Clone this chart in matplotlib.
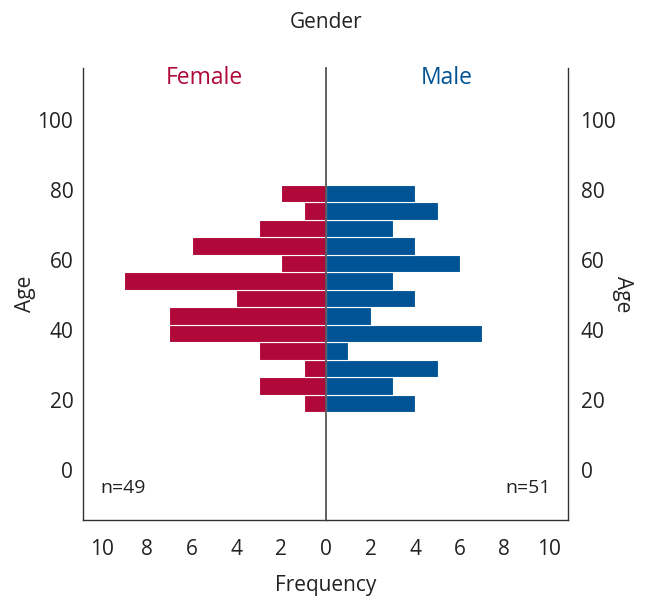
import numpy as np
import matplotlib.pyplot as plt

plt.rcParams['font.family'] = ['Open Sans', 'DejaVu Sans']

# age bins (lower edges), width 5 years
age_lo = [16.5, 21.5, 26.5, 31.5, 36.5, 41.5, 46.5, 51.5, 56.5, 61.5, 66.5, 71.5, 76.5]
female = [1, 3, 1, 3, 7, 7, 4, 9, 2, 6, 3, 1, 2]
male = [4, 3, 5, 1, 7, 2, 4, 3, 6, 4, 3, 5, 4]
yticks = [0, 20, 40, 60, 80, 100]
xticks_l = [0, 2, 4, 6, 8, 10]
xticks_r = [2, 4, 6, 8, 10]

red = '#B00838'
blue = '#005496'
txt = '#222222'

fig = plt.figure(figsize=(6.45, 5.98), dpi=100)
L, R, C = 83/645, 568/645, 326/645
B, T = 1 - 520/598, 1 - 68/598
axl = fig.add_axes([L, B, C - L, T - B])
axr = fig.add_axes([C, B, R - C, T - B])

ymin, ymax = -14.3, 114.9
xmax = 10.85

yc = np.array(age_lo) + 2.5
axl.barh(yc, female, height=5, color=red, edgecolor='white', linewidth=0.8)
axr.barh(yc, male, height=5, color=blue, edgecolor='white', linewidth=0.8)

for ax in (axl, axr):
    ax.set_ylim(ymin, ymax)
    ax.set_yticks(yticks)
    ax.tick_params(length=0, labelsize=15, colors=txt, pad=14)
    ax.spines['top'].set_visible(False)
    for s in ax.spines.values():
        s.set_color('#333333')
        s.set_linewidth(1.0)

axl.set_xticks(xticks_l)
axr.set_xticks(xticks_r)
axl.set_xlim(xmax, 0)
axr.set_xlim(0, xmax)
axl.spines['right'].set_visible(False)
axr.spines['left'].set_color('#555555')
axr.spines['left'].set_linewidth(1.3)
axr.yaxis.tick_right()
axl.tick_params(axis='y', pad=7)
axr.tick_params(axis='y', pad=9)

fig.text(25/645, 1 - 294/598, 'Age', rotation=90, ha='center', va='center',
         fontsize=15, color=txt)
fig.text(623/645, 1 - 294/598, 'Age', rotation=270, ha='center', va='center',
         fontsize=15, color=txt)

axl.text(0.5, 1 - 10/452, 'Female', transform=axl.transAxes, ha='center', va='center',
         fontsize=16.5, color=red)
axr.text(0.5, 1 - 10/452, 'Male', transform=axr.transAxes, ha='center', va='center',
         fontsize=16.5, color=blue)
# left axes is inverted in x, so use data-free axes fractions from the left side
axl.text(0.07, 0.07, 'n=49', transform=axl.transAxes, ha='left', va='center',
         fontsize=14, color=txt)
axr.text(0.93, 0.07, 'n=51', transform=axr.transAxes, ha='right', va='center',
         fontsize=14, color=txt)

fig.text(C, 1 - 22/598, 'Gender', ha='center', va='center', fontsize=15, color=txt)
fig.text(C, 1 - 585/598, 'Frequency', ha='center', va='center', fontsize=15, color=txt)

fig.savefig('out.png', dpi=100)
